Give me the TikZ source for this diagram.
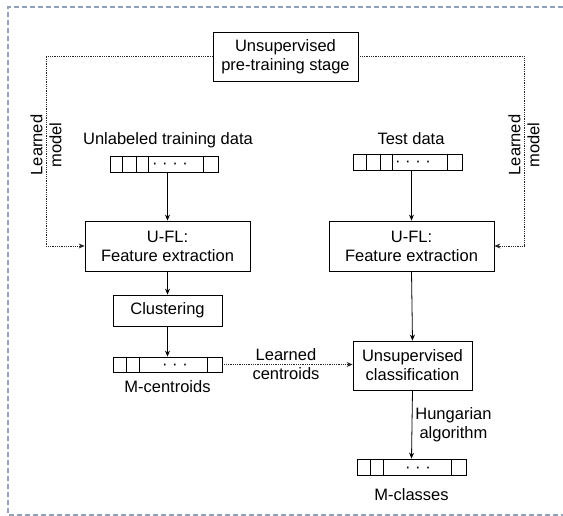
\documentclass[tikz,border=0pt]{standalone}
\usepackage{fontspec}
\setmainfont{Liberation Sans}
\usetikzlibrary{arrows.meta, positioning}
\definecolor{framegray}{RGB}{143,163,191}
\tikzstyle{arrow} = [line width=0.8pt,->,>={Stealth[length=6pt,width=5pt]}]
\tikzstyle{dotarrow} = [line width=0.7pt,black!85,dash pattern=on 0.7pt off 1.1pt,->,>={Stealth[length=6pt,width=5pt]}]
\tikzstyle{block} = [draw, line width=0.8pt, align=center, inner sep=0pt]
\tikzstyle{cellrow} = [draw, line width=0.8pt, minimum width=108pt, minimum height=16pt, inner sep=0pt]

\begin{document}
\begin{tikzpicture}[x=1pt,y=1pt,font=\fontsize{16.5}{19}\selectfont]
\useasboundingbox (0,0) rectangle (563,-516);
\draw[framegray, line width=1.3pt, dash pattern=on 5pt off 3pt] (563,-7) -- (8,-7) -- (8,-515) -- (563,-515);

\node[block, minimum width=145pt, minimum height=49pt] (pre) at (285.5,-56.5) {Unsupervised\\pre-training stage};

% training branch
\node[anchor=base] (traintxt) at (168,-145) {Unlabeled training data};
\node[cellrow] (train) at (164,-164) {};
\foreach \d in {13,27,39,94} {
    \draw[line width=0.8pt] ([xshift=\d pt]train.north west) -- ([xshift=\d pt]train.south west);
}
\node[anchor=base] (traindots) at (170,-169) {· · · ·};
\node[block, minimum width=165pt, minimum height=50pt] (ufl1) at (167.5,-246) {U-FL:\\Feature extraction};
\node[block, minimum width=109pt, minimum height=31pt] (clust) at (167.5,-310.5) {Clustering};
\node[cellrow, minimum width=109pt, minimum height=15pt] (cent) at (167.5,-364.5) {};
\foreach \d in {14,27,95} {
    \draw[line width=0.8pt] ([xshift=\d pt]cent.north west) -- ([xshift=\d pt]cent.south west);
}
\node[anchor=base] (centdots) at (175,-369.5) {· · ·};
\node[anchor=base] (centtxt) at (167.5,-392) {M-centroids};

% test branch
\node[anchor=base] (testtxt) at (411,-145) {Test data};
\node[cellrow, minimum width=109pt] (test) at (407.5,-162) {};
\foreach \d in {14,28,40,95} {
    \draw[line width=0.8pt] ([xshift=\d pt]test.north west) -- ([xshift=\d pt]test.south west);
}
\node[anchor=base] (testdots) at (413,-167) {· · · ·};
\node[block, minimum width=165pt, minimum height=50pt] (ufl2) at (411.5,-246) {U-FL:\\Feature extraction};
\node[block, minimum width=119pt, minimum height=49pt] (classify) at (412.5,-365.5) {Unsupervised\\classification};
\node[cellrow, minimum width=109pt] (classes) at (411.5,-467) {};
\foreach \d in {14,27,95} {
    \draw[line width=0.8pt] ([xshift=\d pt]classes.north west) -- ([xshift=\d pt]classes.south west);
}
\node[anchor=base] (classdots) at (418,-472) {· · ·};
\node[anchor=base] (classtxt) at (411.5,-500) {M-classes};

% connectors
\draw[arrow] (ufl1.north |- train.south) -- (ufl1.north);
\draw[arrow] (ufl1.south) -- (clust.north);
\draw[arrow] (clust.south) -- (cent.north);
\draw[arrow] (ufl2.north |- test.south) -- (ufl2.north);
\draw[arrow] (ufl2.south) -- (classify.north);
\draw[arrow] (classify.south) -- (classes.north)
    node[midway, right, align=center, inner sep=3pt] (hung) {Hungarian\\algorithm};

\coordinate (lbend) at (46,-150);
\coordinate (rbend) at (524,-150);
\draw[dotarrow] (pre.west) -| (lbend) |- (ufl1.west);
\draw[dotarrow] (pre.east) -| (rbend) |- (ufl2.east);
\node[rotate=90, align=center] (lmodel) at (46,-145) {Learned\\model};
\node[rotate=90, align=center] (rmodel) at (524,-145) {Learned\\model};
\draw[dotarrow] (cent.east) -- (cent.east -| classify.west);
\node[align=center] (lcent) at (286,-364) {Learned\\centroids};
\end{tikzpicture}
\end{document}
